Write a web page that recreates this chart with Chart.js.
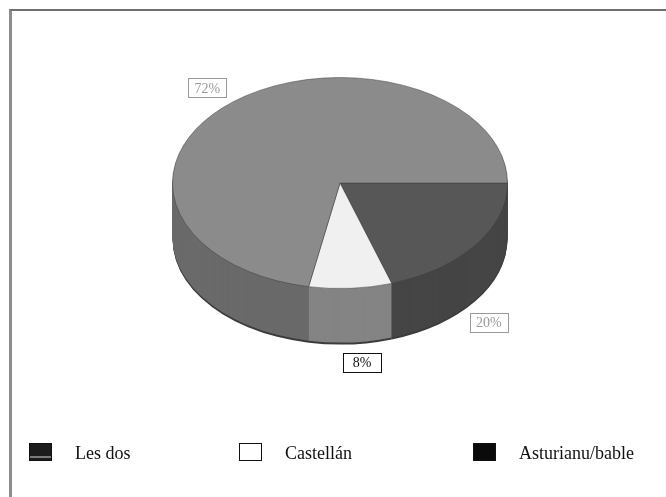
<!DOCTYPE html>
<html>
<head>
<meta charset="utf-8">
<script src="https://cdn.jsdelivr.net/npm/chart.js@4/dist/chart.umd.min.js"></script>
<style>
    html, body { margin: 0; padding: 0; background: #fff; overflow: hidden; }
    #marco {
        position: absolute; left: 9px; top: 9px; width: 720px; height: 540px;
        border-top: 2px solid #6f6f6f; border-left: 3px solid #8c8c8c;
    }
    #grafico { position: absolute; left: 0; top: 0; }
    #lenda {
        position: absolute; left: 0; top: 443px; width: 666px; height: 20px;
        font-family: "Liberation Serif", "Times New Roman", serif; font-size: 18px; color: #111;
    }
    .item { position: absolute; top: 0; display: flex; align-items: flex-start; height: 20px; }
    .cuadru { width: 23px; height: 18px; box-sizing: border-box; margin-right: 23px; }
    .item span { position: relative; top: 0px; line-height: 20px; }
</style>
</head>
<body>
<div id="marco"></div>
<canvas id="grafico" width="666" height="497"></canvas>
<div id="lenda"></div>
<script>
// datos (orde de la lleenda)
const categorias = ['Les dos', 'Castellán', 'Asturianu/bable'];
const valores = [72, 8, 20];

// estilos
const coloresCara = ['#8b8b8b', '#f0f0f0', '#575757'];
const coloresLateral = ['#6a6a6a', '#848484', '#454545'];
const fondosLenda = [
    'linear-gradient(#1c1c1c 0 76%, #7a7a7a 76% 86%, #1c1c1c 86%)',
    '#ffffff',
    '#0a0a0a'
];
const coloresEtiqueta = ['#9a9a9a', '#111111', '#9a9a9a'];
const posLenda = [29, 239, 473];
const axusteEtiqueta = [[-10, 2], [10, 2], [-7, 14]];

const K = 0.63;      // aplastamientu de la elipse
const FONDURA = 56;  // altor del lateral (px)

// la tarta va en sentíu horariu dende les 3: Asturianu, Castellán, Les dos
const orde = [2, 1, 0];

function trazarCuna(ctx, arc) {
    ctx.beginPath();
    ctx.moveTo(arc.x, arc.y);
    ctx.arc(arc.x, arc.y, arc.outerRadius, arc.startAngle, arc.endAngle);
    ctx.closePath();
}

function perspectiva(ctx, arc, dy) {
    const pivote = arc.y - arc.outerRadius;
    ctx.translate(0, pivote + dy);
    ctx.scale(1, K);
    ctx.translate(0, -pivote);
}

const tarta3d = {
    id: 'tarta3d',
    beforeDatasetsDraw(chart) {
        const ctx = chart.ctx;
        const arcos = chart.getDatasetMeta(0).data;
        for (let d = FONDURA; d > 0; d--) {
            arcos.forEach((arc, i) => {
                ctx.save();
                perspectiva(ctx, arc, d);
                trazarCuna(ctx, arc);
                ctx.fillStyle = d > FONDURA - 2 ? '#3c3c3c' : coloresLateral[orde[i]];
                ctx.fill();
                ctx.restore();
            });
        }
        ctx.save();
        perspectiva(ctx, arcos[0], 0);
    },
    afterDatasetsDraw(chart) {
        const ctx = chart.ctx;
        ctx.restore();

        // etiquetes de porcentaxe
        const arcos = chart.getDatasetMeta(0).data;
        ctx.save();
        ctx.font = '14px "Liberation Serif", "Times New Roman", serif';
        ctx.textAlign = 'center';
        ctx.textBaseline = 'middle';
        arcos.forEach((arc, i) => {
            const k = orde[i];
            const R = arc.outerRadius;
            const pivote = arc.y - R;
            const cy = pivote + K * (arc.y - pivote);
            const a = (arc.startAngle + arc.endAngle) / 2;
            const lx = arc.x + R * Math.cos(a) * 1.15 + axusteEtiqueta[k][0];
            const ly = cy + K * R * Math.sin(a) * 1.2 + (Math.sin(a) > 0 ? FONDURA * 0.9 : 0) + axusteEtiqueta[k][1];
            const texto = chart.data.datasets[0].data[i] + '%';
            const w = 38;
            ctx.fillStyle = '#fff';
            ctx.fillRect(lx - w / 2, ly - 9, w, 19);
            ctx.strokeStyle = coloresEtiqueta[k];
            ctx.lineWidth = 1;
            ctx.strokeRect(Math.round(lx - w / 2) + 0.5, Math.round(ly - 9) + 0.5, w, 19);
            ctx.fillStyle = coloresEtiqueta[k];
            ctx.fillText(texto, lx, ly + 1.5);
        });
        ctx.restore();
    }
};

new Chart(document.getElementById('grafico'), {
    type: 'pie',
    data: {
        labels: orde.map(i => categorias[i]),
        datasets: [{
            data: orde.map(i => valores[i]),
            backgroundColor: orde.map(i => coloresCara[i]),
            borderColor: 'rgba(60, 60, 60, 0.6)',
            borderWidth: 1,
            clip: false
        }]
    },
    options: {
        responsive: false,
        animation: false,
        rotation: 90,
        layout: { padding: { top: 77, left: 14, right: 0, bottom: 84 } },
        plugins: {
            legend: { display: false },
            tooltip: { enabled: false }
        }
    },
    plugins: [tarta3d]
});

// lleenda
const lenda = document.getElementById('lenda');
categorias.forEach((nome, i) => {
    const item = document.createElement('div');
    item.className = 'item';
    item.style.left = posLenda[i] + 'px';
    const cuadru = document.createElement('div');
    cuadru.className = 'cuadru';
    cuadru.style.background = fondosLenda[i];
    cuadru.style.border = '1.5px solid #111';
    const texto = document.createElement('span');
    texto.textContent = nome;
    item.appendChild(cuadru);
    item.appendChild(texto);
    lenda.appendChild(item);
});
</script>
</body>
</html>
